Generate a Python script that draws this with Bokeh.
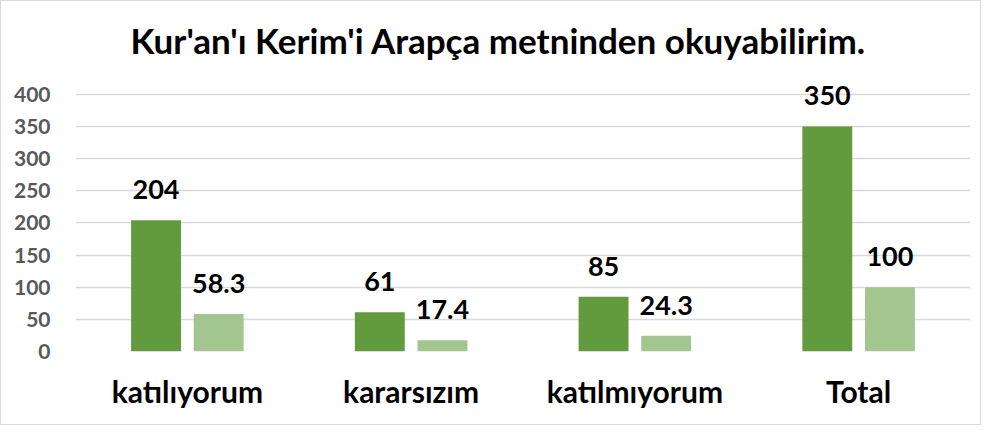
from bokeh.plotting import figure
from bokeh.models import (ColumnDataSource, FactorRange, Title, SingleIntervalTicker,
                          LabelSet, InlineStyleSheet)
from bokeh.transform import dodge
from bokeh.core.properties import value
from bokeh.embed import file_html
from bokeh.resources import INLINE

categories = ["katılıyorum", "kararsızım", "katılmıyorum", "Total"]
counts = [204, 61, 85, 350]
percents = [58.3, 17.4, 24.3, 100]
count_labels = ["204", "61", "85", "350"]
percent_labels = ["58.3", "17.4", "24.3", "100"]

FONT = "Lato"
DARK = "#629A3E"
LIGHT = "#A3C590"

src = ColumnDataSource(dict(cat=categories, n=counts, pct=percents,
                            nl=count_labels, pl=percent_labels))

p = figure(x_range=FactorRange(factors=categories, range_padding=0),
           y_range=(0, 440), width=981, height=425,
           output_backend="svg", toolbar_location=None,
           min_border_left=74, min_border_right=12, min_border_top=67, min_border_bottom=75)
p.stylesheets = [InlineStyleSheet(css=":host { border: 1px solid #D9D9D9; }")]
p.outline_line_color = None

t = Title(text="Kur'an'ı Kerim'i Arapça metninden okuyabilirim.", align="left",
          text_font=FONT, text_font_size="35px", text_font_style="bold",
          text_color="#000000", standoff=15, offset=55)
p.add_layout(t, "above")

p.vbar(x=dodge("cat", -0.14, range=p.x_range), top="n", width=0.223, source=src,
       fill_color=DARK, line_color=None)
p.vbar(x=dodge("cat", 0.14, range=p.x_range), top="pct", width=0.223, source=src,
       fill_color=LIGHT, line_color=None)

for col, lab, off in (("n", "nl", -0.14), ("pct", "pl", 0.14)):
    ls = LabelSet(x=dodge("cat", off, range=p.x_range), y=col, text=lab, source=src,
                  text_align="center", text_baseline="bottom", y_offset=21,
                  text_font=value(FONT), text_font_size=value("27px"),
                  text_font_style="bold", text_color="#000000")
    p.add_layout(ls)

p.xgrid.grid_line_color = None
p.ygrid.grid_line_color = "#D9D9D9"
p.ygrid.grid_line_width = 1.5
p.yaxis.ticker = SingleIntervalTicker(interval=50)

for ax in (p.xaxis, p.yaxis):
    ax.axis_line_color = None
    ax.major_tick_line_color = None
    ax.minor_tick_line_color = None

p.yaxis.major_label_text_font = FONT
p.yaxis.major_label_text_font_size = "21px"
p.yaxis.major_label_text_font_style = "bold"
p.yaxis.major_label_text_color = "#595959"
p.yaxis.major_label_standoff = 19

p.xaxis.major_label_text_font = FONT
p.xaxis.major_label_text_font_size = "30px"
p.xaxis.major_label_text_font_style = "bold"
p.xaxis.major_label_text_color = "#000000"
p.xaxis.major_label_standoff = 15

open("out.html", "w").write(file_html(p, INLINE))
